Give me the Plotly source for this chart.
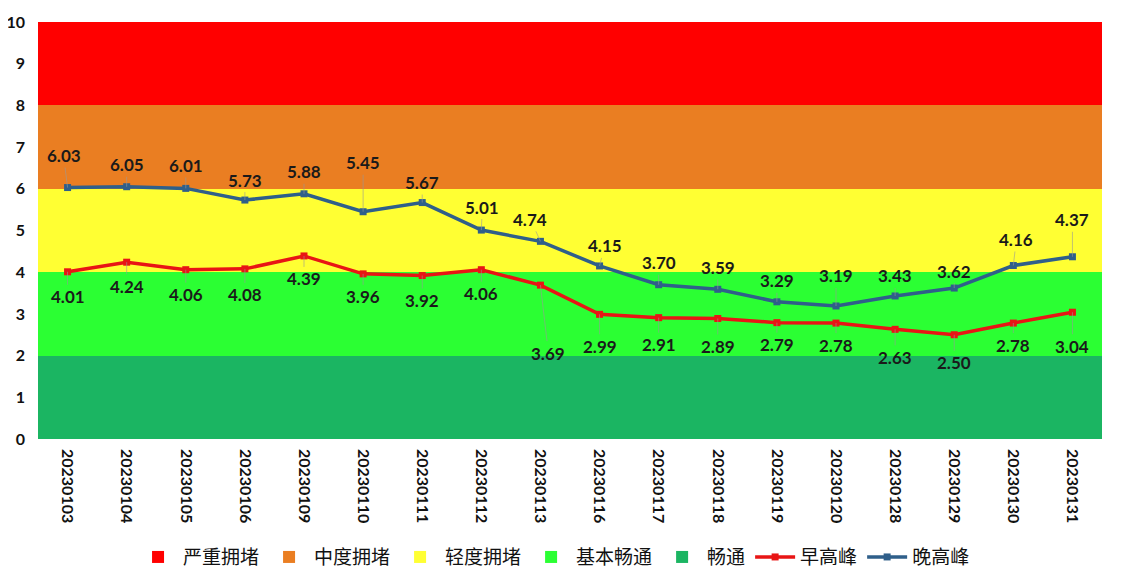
import plotly.graph_objects as go

dates = ["20230103", "20230104", "20230105", "20230106", "20230109", "20230110",
         "20230111", "20230112", "20230113", "20230116", "20230117", "20230118",
         "20230119", "20230120", "20230128", "20230129", "20230130", "20230131"]

morning = [4.01, 4.24, 4.06, 4.08, 4.39, 3.96, 3.92, 4.06, 3.69,
           2.99, 2.91, 2.89, 2.79, 2.78, 2.63, 2.50, 2.78, 3.04]
evening = [6.03, 6.05, 6.01, 5.73, 5.88, 5.45, 5.67, 5.01, 4.74,
           4.15, 3.70, 3.59, 3.29, 3.19, 3.43, 3.62, 4.16, 4.37]

# congestion bands, bottom to top, each 2 units tall
band_names = ["畅通", "基本畅通", "轻度拥堵", "中度拥堵", "严重拥堵"]
band_height = [2, 2, 2, 2, 2]
band_colors = ["#1BB562", "#2BFF33", "#FFFF33", "#EA7E22", "#FF0000"]

# label offsets in pixels (dx, dy)
morning_off = [(0, 25), (0, 24), (0, 25), (0, 26), (0, 23), (0, 23), (0, 25), (0, 24), (8, 68),
               (0, 32), (0, 27), (0, 28), (0, 22), (0, 22), (0, 28), (0, 28), (0, 22), (0, 34)]
evening_off = [(-4, -32), (0, -22), (0, -23), (0, -20), (0, -22), (0, -49), (0, -20), (1, -23), (-10, -22),
               (5, -20), (0, -22), (0, -22), (0, -21), (0, -30), (0, -20), (0, -17), (3, -26), (0, -37)]

font_fam = "Lato, Liberation Sans, sans-serif"
# numeric positions so that the date strings are not taken as numbers
xpos = list(range(len(dates)))

fig = go.Figure()

for i in range(len(band_names)):
    fig.add_trace(go.Bar(
        x=xpos, y=[band_height[i]] * len(dates), name=band_names[i],
        marker=dict(color=band_colors[i], line=dict(width=0)),
        hoverinfo="skip", legendrank=10 + (4 - i),
    ))

fig.add_trace(go.Scatter(
    x=xpos, y=morning, name="早高峰", mode="lines+markers",
    line=dict(color="#E81515", width=3.5),
    marker=dict(symbol="square", size=7, color="#E81515"),
    legendrank=20,
))
fig.add_trace(go.Scatter(
    x=xpos, y=evening, name="晚高峰", mode="lines+markers",
    line=dict(color="#2F5F8A", width=3.5),
    marker=dict(symbol="square", size=7, color="#2F5F8A"),
    legendrank=21,
))

for vals, offs in ((morning, morning_off), (evening, evening_off)):
    for i, (v, (dx, dy)) in enumerate(zip(vals, offs)):
        fig.add_annotation(
            x=i, y=v, text="%.2f" % v,
            showarrow=True, arrowhead=0, arrowwidth=0.6, arrowcolor="#999999",
            ax=dx, ay=dy,
            font=dict(family=font_fam, size=17, color="#1a1a1a", weight="bold"),
        )

fig.update_layout(
    barmode="stack", bargap=0,
    width=1124, height=578,
    margin=dict(l=30, r=30, t=14, b=147),
    plot_bgcolor="white", paper_bgcolor="white",
    legend=dict(orientation="h", x=0.485, xanchor="center",
                yref="container", y=0.05, yanchor="middle",
                font=dict(family="Noto Sans CJK SC", size=19, color="#111111"),
                traceorder="normal", itemwidth=40),
    xaxis=dict(tickangle=90, showgrid=False, showline=False, ticks="", automargin=False,
               tickmode="array", tickvals=xpos, ticktext=dates,
               tickfont=dict(family=font_fam, size=16, color="#111111", weight="bold"),
               ticklabelstandoff=9, range=[-0.5, 17.5]),
    yaxis=dict(range=[0, 10], dtick=1, showgrid=False, zeroline=False, ticks="", automargin=False,
               tickfont=dict(family=font_fam, size=16, color="#111111", weight="bold"),
               ticklabelstandoff=12),
    showlegend=True,
)

fig.write_html("out.html")
